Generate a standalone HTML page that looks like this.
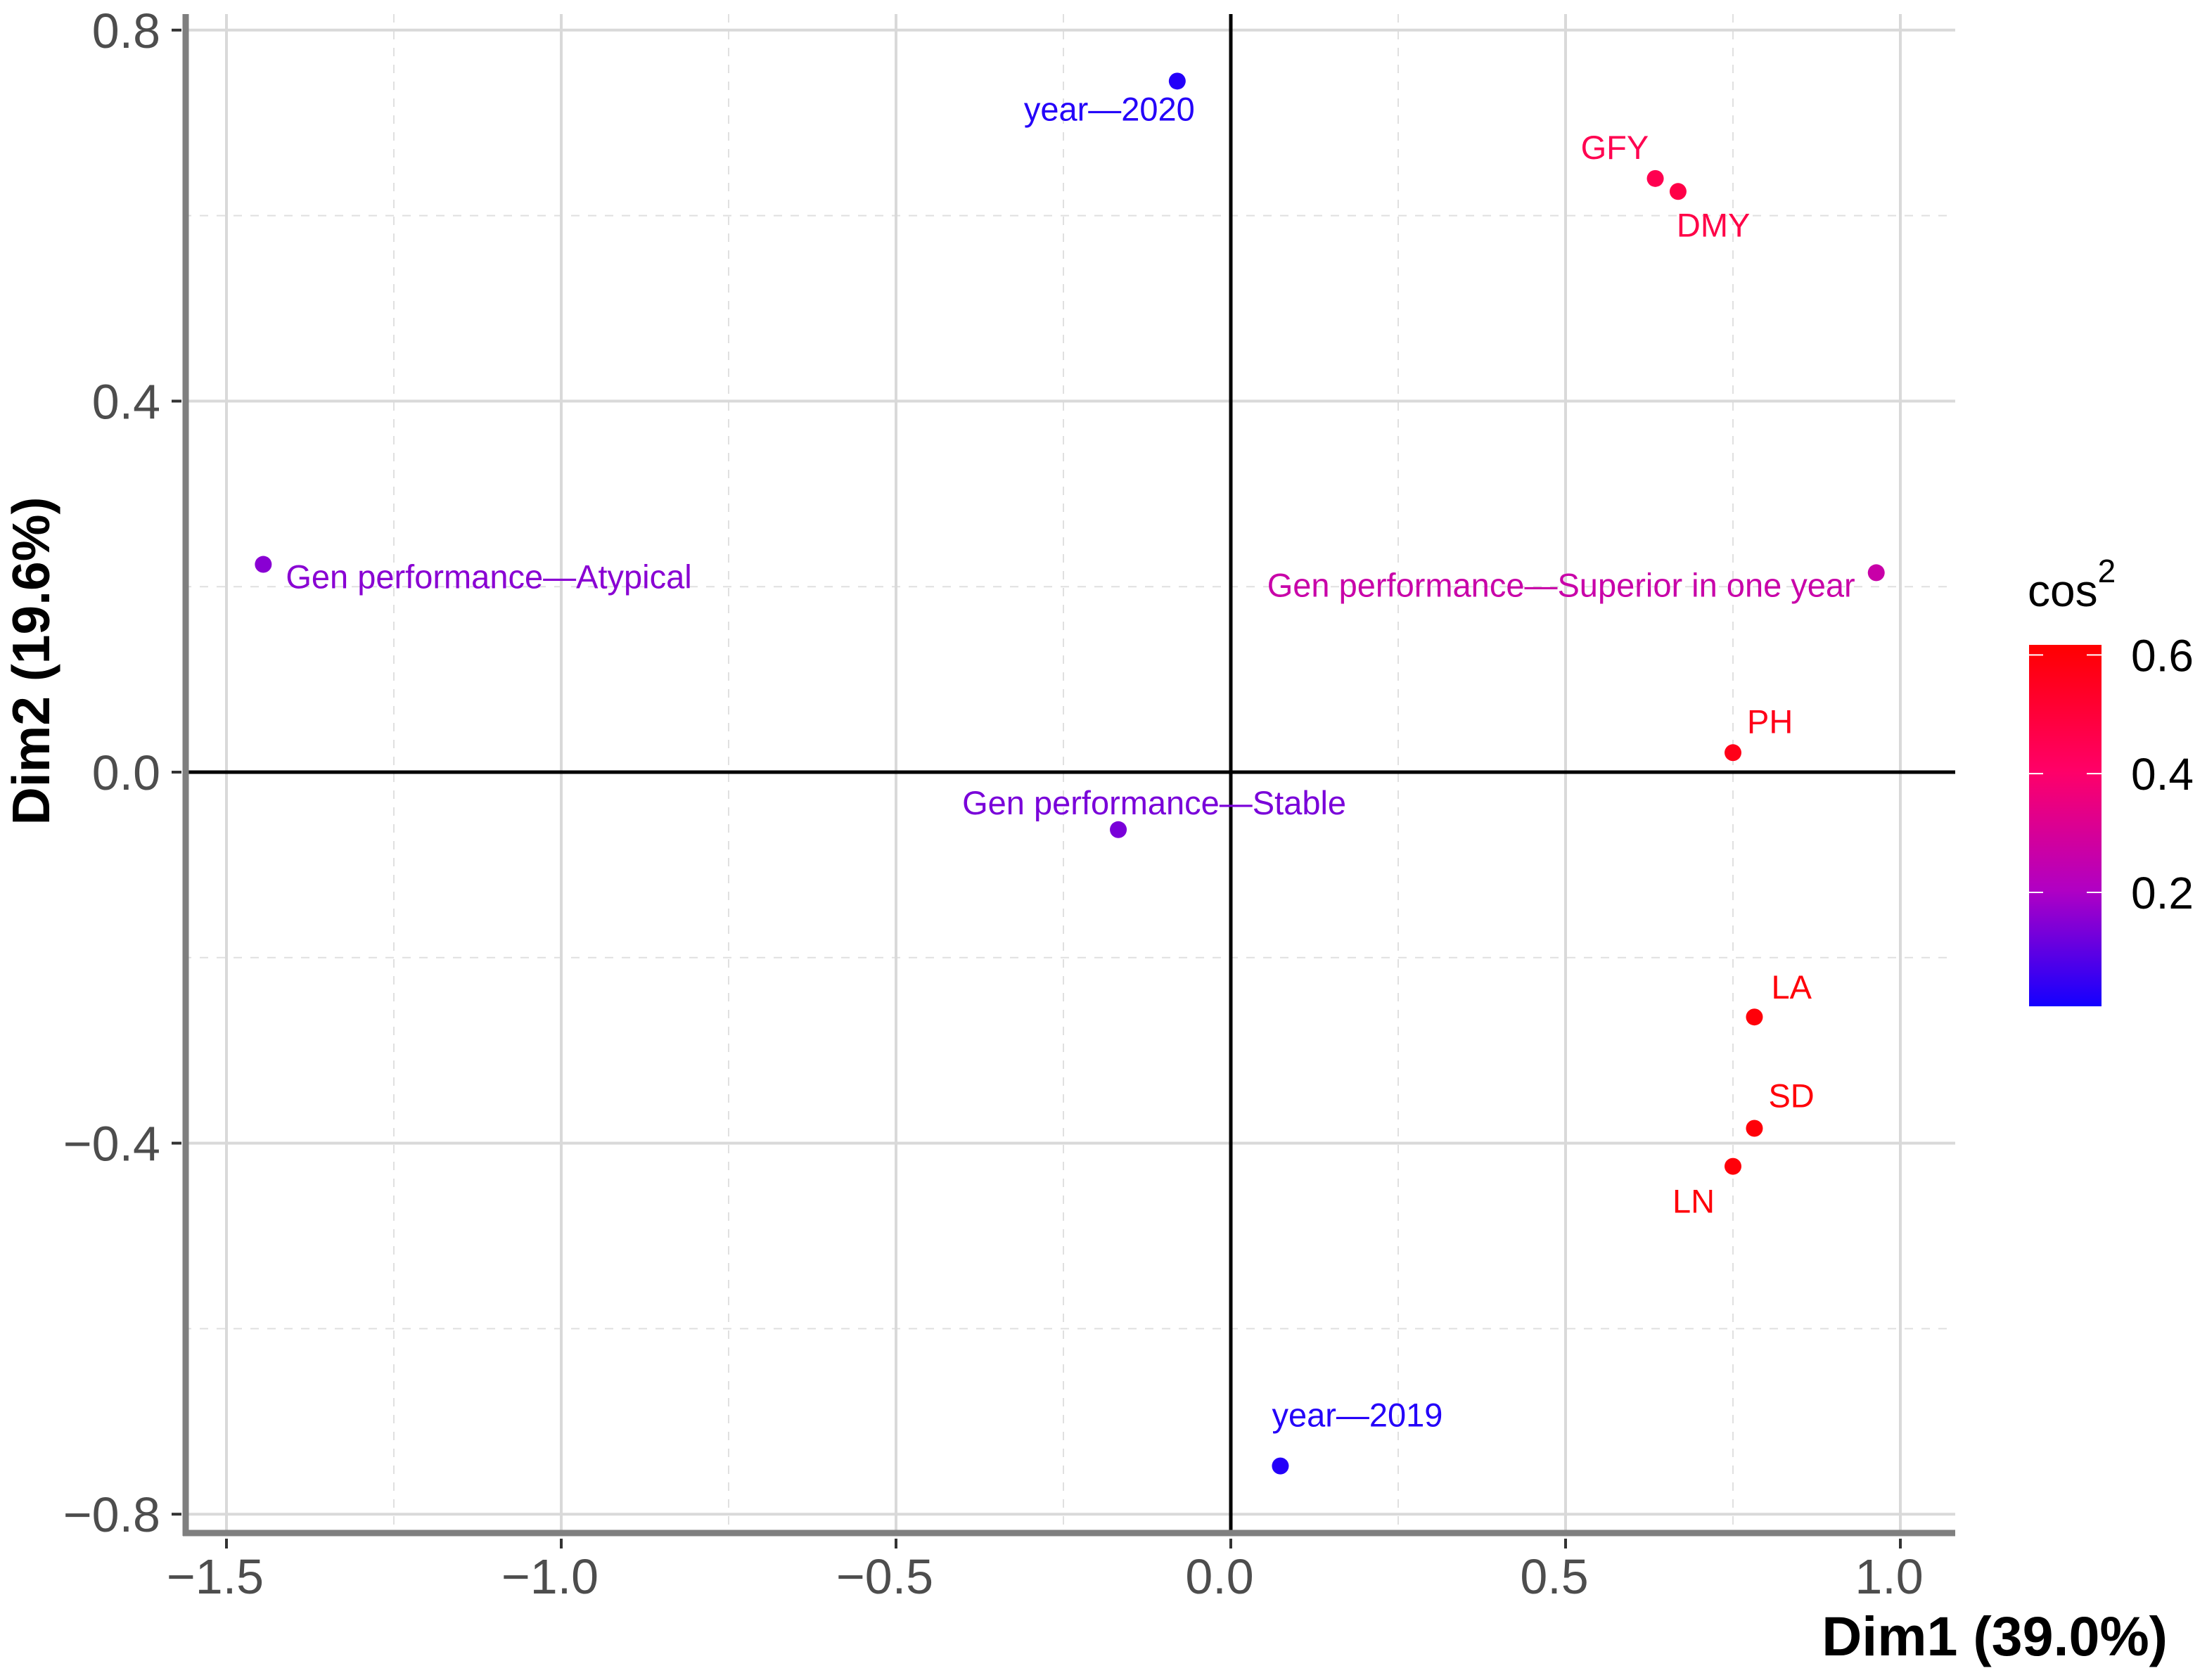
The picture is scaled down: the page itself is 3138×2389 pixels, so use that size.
<!DOCTYPE html>
<html><head><meta charset="utf-8"><style>
html,body{margin:0;padding:0;background:#fff}
svg{display:block;font-family:"Liberation Sans",Arial,sans-serif}
</style></head><body>
<svg id="chart" width="3138" height="2389" viewBox="0 0 3138 2389" xmlns="http://www.w3.org/2000/svg">
<defs>
<linearGradient id="cbar" x1="0" y1="1" x2="0" y2="0">
<stop offset="0" stop-color="#1400ff"/>
<stop offset="0.32" stop-color="#b000c4"/>
<stop offset="0.65" stop-color="#ff0068"/>
<stop offset="1" stop-color="#ff0000"/>
</linearGradient>
</defs>
<g id="grid"></g>
<g id="axes"></g>
<g id="marks"></g>
<text x="3082" y="2354" text-anchor="end" font-size="79" font-weight="bold" fill="#000">Dim1 (39.0%)</text>
<text transform="translate(70,940) rotate(-90)" text-anchor="middle" font-size="75" font-weight="bold" fill="#000">Dim2 (19.6%)</text>
<g>
<text x="2883" y="862" font-size="64" fill="#000">cos<tspan font-size="46" dy="-34">2</tspan></text>
<rect x="2885" y="917" width="103" height="514" fill="url(#cbar)"/>
<g id="legend-ticks"></g>
</g>
</svg>
<script>
const labels = ["year\u20142020","GFY","DMY","Gen performance\u2014Atypical","Gen performance\u2014Superior in one year","PH","Gen performance\u2014Stable","LA","SD","LN","year\u20142019"];
const dim1 = [-0.08,0.634,0.668,-1.445,0.964,0.75,-0.168,0.782,0.782,0.75,0.074];
const dim2 = [0.745,0.64,0.626,0.224,0.215,0.021,-0.062,-0.264,-0.384,-0.425,-0.748];
const cos2 = [0.02,0.45,0.47,0.15,0.26,0.57,0.13,0.6,0.6,0.6,0.02];
const xTicks = [-1.5,-1.0,-0.5,0.0,0.5,1.0];
const xTickLabels = ["\u22121.5","\u22121.0","\u22120.5","0.0","0.5","1.0"];
const yTicks = [-0.8,-0.4,0.0,0.4,0.8];
const yTickLabels = ["\u22120.8","\u22120.4","0.0","0.4","0.8"];
const legendTicks = [0.2,0.4,0.6];
const legendTickLabels = ["0.2","0.4","0.6"];

const NS="http://www.w3.org/2000/svg";
const X0=1750,KX=952,Y0=1098,KY=1319;
const sx=v=>X0+v*KX, sy=v=>Y0-v*KY;
const L=260,R=2780,T=20,B=2180;
function mk(tag,attrs,parent,text){const e=document.createElementNS(NS,tag);for(const k in attrs)e.setAttribute(k,attrs[k]);if(text!==undefined)e.textContent=text;parent.appendChild(e);return e;}
const grid=document.getElementById('grid'),axes=document.getElementById('axes'),marks=document.getElementById('marks');
for(let i=0;i<xTicks.length;i++){const v=xTicks[i]+0.25;if(sx(v)<R){const g=mk('line',{x1:sx(v),x2:sx(v),y1:T,y2:B,stroke:'#e0e0e0','stroke-width':2,'stroke-dasharray':'12 12'},grid);

}}
for(let i=0;i<yTicks.length-1;i++){const v=yTicks[i]+0.2;const g=mk('line',{x1:L,x2:R,y1:sy(v),y2:sy(v),stroke:'#e0e0e0','stroke-width':2,'stroke-dasharray':'12 12'},grid);

}
xTicks.forEach((v,i)=>{const g=mk('line',{x1:sx(v),x2:sx(v),y1:T,y2:B,stroke:'#d9d9d9','stroke-width':4},grid);


const t=mk('line',{x1:sx(v),x2:sx(v),y1:B+8,y2:B+22,stroke:'#333','stroke-width':4},axes);


const tl=mk('text',{x:sx(v)-16,y:2266,'text-anchor':'middle','font-size':70,fill:'#4d4d4d'},axes,xTickLabels[i]);

});
yTicks.forEach((v,i)=>{const g=mk('line',{x1:L,x2:R,y1:sy(v),y2:sy(v),stroke:'#d9d9d9','stroke-width':4},grid);


const t=mk('line',{x1:244,x2:258,y1:sy(v),y2:sy(v),stroke:'#333','stroke-width':4},axes);


const tl=mk('text',{x:228,y:sy(v)+25,'text-anchor':'end','font-size':70,fill:'#4d4d4d'},axes,yTickLabels[i]);

});
let z=mk('line',{x1:sx(0),x2:sx(0),y1:T,y2:B,stroke:'#000','stroke-width':5},axes);


z=mk('line',{x1:L,x2:R,y1:sy(0),y2:sy(0),stroke:'#000','stroke-width':5},axes);


let a=mk('line',{x1:264,x2:264,y1:T,y2:B+4,stroke:'#7f7f7f','stroke-width':9},axes);


a=mk('line',{x1:260,x2:R,y1:B,y2:B,stroke:'#7f7f7f','stroke-width':9},axes);


const stops=[[0,[20,0,255]],[0.2,[176,0,196]],[0.4,[255,0,104]],[0.62,[255,0,0]]];
function col(c){for(let i=0;i<stops.length-1;i++){const[a0,ca]=stops[i],[a1,cb]=stops[i+1];if(c<=a1||i==stops.length-2){const t=Math.max(0,Math.min(1,(c-a0)/(a1-a0)));return 'rgb('+ca.map((q,j)=>Math.round(q+(cb[j]-q)*t)).join(',')+')';}}}
const off=[[-218,40],[-106,-44],[-2,48],[32,18],[-866,18],[20,-44],[-222,-38],[24,-42],[20,-46],[-86,50],[-12,-72]];
labels.forEach((lab,i)=>{const px=sx(dim1[i]),py=sy(dim2[i]),c=col(cos2[i]);
const p=mk('circle',{cx:px,cy:py,r:12,fill:c},marks);


const t=mk('text',{x:px+off[i][0],y:py+off[i][1]+16,'font-size':47,fill:c},marks,lab);

});
const lt=document.getElementById('legend-ticks');
const cy=v=>1431-(v-0.008)*(514/0.609);
legendTicks.forEach((v,i)=>{
const a1=mk('line',{x1:2885,x2:2905,y1:cy(v),y2:cy(v),stroke:'#fff','stroke-width':2},lt);


const a2=mk('line',{x1:2967,x2:2988,y1:cy(v),y2:cy(v),stroke:'#fff','stroke-width':2},lt);


const t=mk('text',{x:3030,y:cy(v)+23,'font-size':64,fill:'#000'},lt,legendTickLabels[i]);

});
</script>
</body></html>
